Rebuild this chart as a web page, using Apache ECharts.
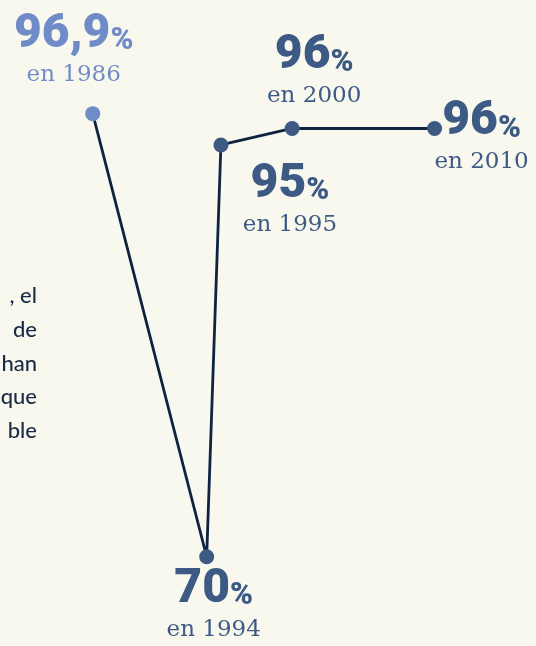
<!DOCTYPE html>
<html><head><meta charset="utf-8">
<script src="https://cdn.jsdelivr.net/npm/echarts@6/dist/echarts.min.js"></script>
<style>html,body{margin:0;padding:0;background:#f9f8ee;}#c{width:536px;height:646px;}</style>
</head><body><div id="c"></div>
<script>
const years = [1986, 1994, 1995, 2000, 2010];
const values = [96.9, 70, 95, 96, 96];
const valueLabels = ['96,9', '70', '95', '96', '96'];
const paragraphLines = [', el', 'de', 'han', 'que', 'ble'];

const light = '#6f8cc8', dark = '#3d5a85', lineColor = '#0f2340';
const labelOffsets = [[-19,-61],[7,51],[69,58],[22,-54],[47,12]];

function rich(c){
  return {
    big:{fontFamily:'Roboto',fontWeight:900,fontSize:48,color:c,lineHeight:44},
    pct:{fontFamily:'Roboto',fontWeight:900,fontSize:31,color:c,lineHeight:44,verticalAlign:'bottom'},
    yr:{fontFamily:'DejaVu Serif',fontSize:23,color:c,lineHeight:36}
  };
}

const data = years.map((y,i)=>({
  value:[y, values[i]],
  itemStyle:{color: i===0?light:dark},
  label:{
    show:true, position:'inside', offset:labelOffsets[i], align:'center', verticalAlign:'middle',
    formatter:'{big|'+valueLabels[i]+'}{pct|%}\n{yr|en '+years[i]+'}',
    rich: rich(i===0?light:dark)
  }
}));

const chart = echarts.init(document.getElementById('c'));
chart.setOption({
  backgroundColor:'#f9f8ee',
  animation:false,
  grid:{left:0,right:0,top:0,bottom:0},
  xAxis:{type:'value',min:1979.49,max:2017.12,show:false},
  yAxis:{type:'value',min:64.58,max:103.8,show:false},
  series:[{
    type:'line', data:data, symbol:'circle', symbolSize:15,
    lineStyle:{color:lineColor,width:2.8},
    z:3
  }],
  graphic: paragraphLines.map((t,i)=>({
    type:'text', x:37, y:296+i*33.8,
    style:{text:t, fill:'#1a2b48', fontSize:22, fontFamily:'Lato', fontWeight:500, align:'right', verticalAlign:'middle'}
  }))
});
</script></body></html>
